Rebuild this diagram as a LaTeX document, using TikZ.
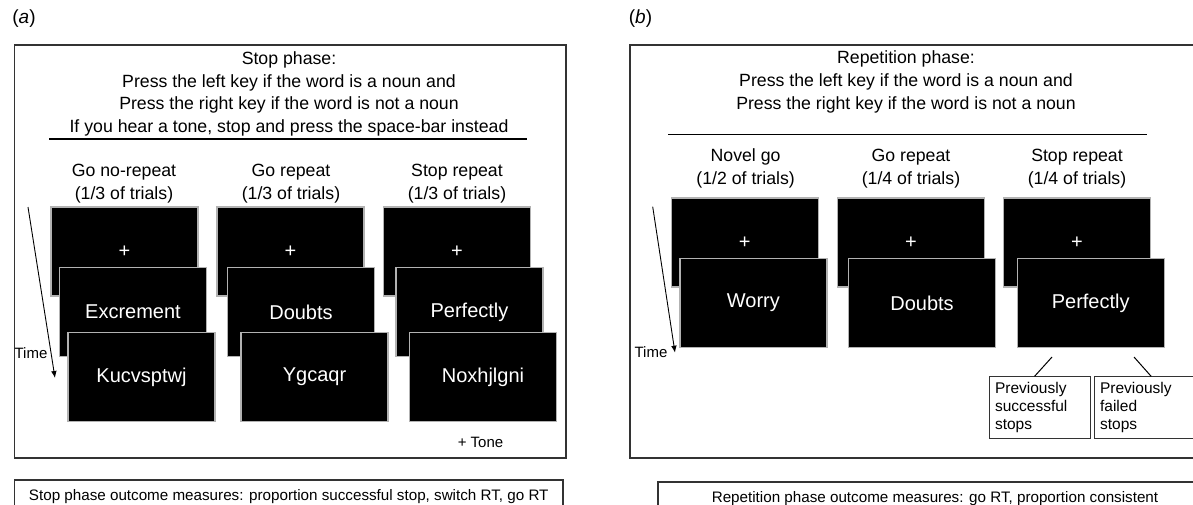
\documentclass[tikz,border=0pt]{standalone}
\usepackage{fontspec}
\setmainfont{Liberation Sans}
\usetikzlibrary{arrows.meta}
\tikzset{
  screen/.style={draw=black!30, line width=0.6pt, fill=black, text=white, minimum width=73.5pt, minimum height=44.5pt, inner sep=0pt, font=\fontsize{10}{12}\selectfont},
  panel/.style={draw=black!80, line width=0.7pt},
  instr/.style={align=center, inner sep=0pt, font=\fontsize{8.85}{11.35}\selectfont},
  note/.style={inner sep=0pt, font=\fontsize{7.5}{9}\selectfont},
  stopbox/.style={draw=black!80, line width=0.5pt, text width=45pt, align=left, inner sep=2.7pt, minimum height=30.5pt, font=\fontsize{7.75}{9}\selectfont},
  outbox/.style={draw=black!80, line width=0.6pt, inner sep=0pt, minimum height=17pt, font=\fontsize{7.6}{9}\selectfont}
}
\newcommand{\screen}[4]{\node[screen] (#1) at (#2,#3) {#4};}
\newcommand{\link}[2]{\draw[line width=0.5pt] (#1) -- (#2);}
\newcommand{\timeline}[5]{\coordinate (#1s) at (#2,#3); \coordinate (#1e) at (#4,#5); \draw[line width=0.45pt,-{Latex[length=3.5pt,width=2.8pt]}] (#1s) -- (#1e);}

\begin{document}
\begin{tikzpicture}[x=0.5pt,y=-0.5pt]
    \clip (0,0) rectangle (1193,504);
    \node[font=\fontsize{9.5}{11}\selectfont] (laba) at (24,19) {(\textit{a})};
    \node[font=\fontsize{9.5}{11}\selectfont] (labb) at (640.5,19) {(\textit{b})};
    \draw[panel] (14.5,45) rectangle (566,458);
    \node[instr] (insta) at (289,94) {Stop phase:\\Press the left key if the word is a noun and\\Press the right key if the word is not a noun\\If you hear a tone, stop and press the space-bar instead};
    \draw[line width=0.6pt] (49,139) -- (527,139);
    \node[instr] (ha1) at (124,183.5) {Go no-repeat\\(1/3 of trials)};
    \node[instr] (ha2) at (291,183.5) {Go repeat\\(1/3 of trials)};
    \node[instr] (ha3) at (457,183.5) {Stop repeat\\(1/3 of trials)};
    \screen{a1back}{124.5}{251.5}{+}    \screen{a1mid}{133}{312}{Excrement}
    \screen{a1front}{141.5}{377}{Kucvsptwj}
    \screen{a2back}{290.5}{251.5}{+}    \screen{a2mid}{301}{312}{Doubts}
    \screen{a2front}{314.5}{377}{Ygcaqr}
    \screen{a3back}{457}{251.5}{+}    \screen{a3mid}{469.5}{312}{Perfectly}
    \screen{a3front}{483}{377}{Noxhjlgni}
    \timeline{ta}{28}{207}{55}{378}    \node[note] (timea) at (31,353) {Time};
    \node[note] (tone) at (480.5,442) {+ Tone};
    \node[outbox, minimum width=274.25pt] (outa) at (288.75,497) {Stop phase outcome measures: proportion successful stop, switch RT, go RT};
    \draw[panel] (630,45) rectangle (1205,458);
    \node[instr] (instb) at (906,82) {Repetition phase:\\Press the left key if the word is a noun and\\Press the right key if the word is not a noun};
    \draw[line width=0.6pt] (668,134.5) -- (1147,134.5);
    \node[instr] (hb1) at (745.6,168.5) {Novel go\\(1/2 of trials)};
    \node[instr] (hb2) at (911,168.5) {Go repeat\\(1/4 of trials)};
    \node[instr] (hb3) at (1077,168.5) {Stop repeat\\(1/4 of trials)};
    \screen{b1back}{744.8}{242.5}{+}    \screen{b1mid}{753.4}{303}{Worry}
    \screen{b2back}{911}{242.5}{+}    \screen{b2mid}{922}{303}{Doubts}
    \screen{b3back}{1077}{242.5}{+}    \screen{b3mid}{1090.7}{303}{Perfectly}
    \timeline{tb}{652.7}{206.7}{675}{352.7}    \node[note] (timeb) at (651,352) {Time};
    \node[stopbox] (psucc) at (1040,407.5) {Previously\\successful\\stops};
    \node[stopbox, text width=60pt] (pfail) at (1160.1,407.5) {Previously\\failed\\stops};
    \coordinate (sa) at (1052,357); \coordinate (sb) at (1134,357);
    \link{sa}{psucc.100}\link{sb}{pfail.106}
    \node[outbox, minimum width=277pt] (outb) at (935,499) {Repetition phase outcome measures: go RT, proportion consistent};
\end{tikzpicture}
\end{document}
